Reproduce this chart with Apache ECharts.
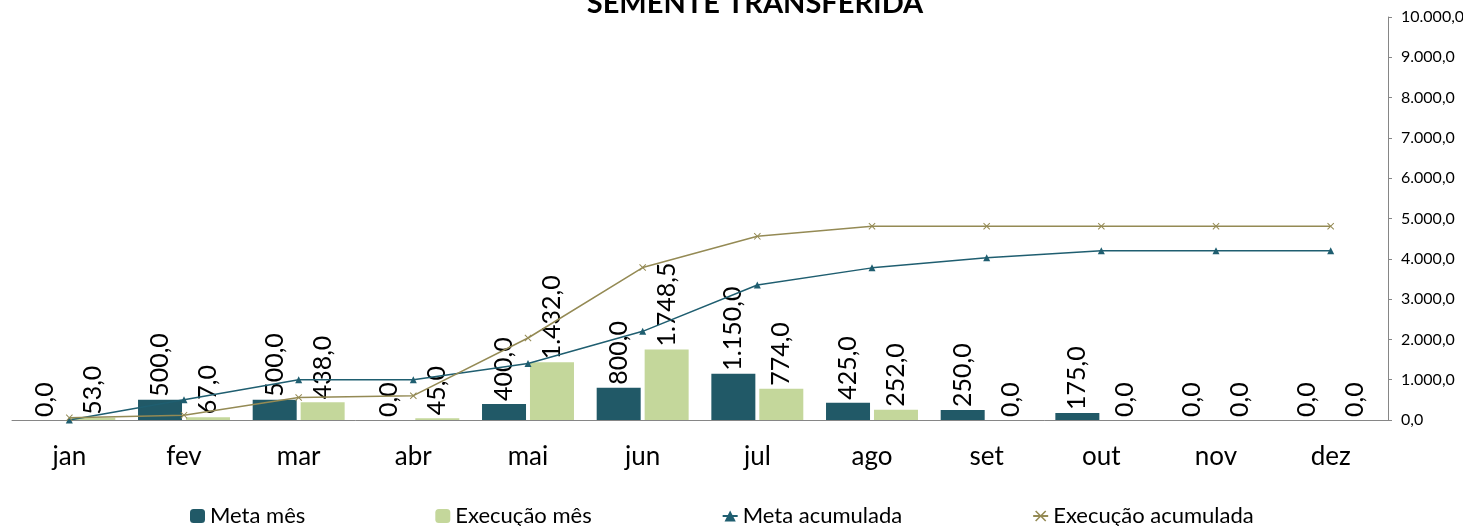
<!DOCTYPE html>
<html>
<head>
<meta charset="utf-8">
<script src="https://cdn.jsdelivr.net/npm/echarts@6/dist/echarts.min.js"></script>
<style>
  html, body { margin: 0; padding: 0; background: #fff; }
  #chart { width: 1463px; height: 526px; }
</style>
</head>
<body>
<div id="chart"></div>
<script>
var meses = ['jan', 'fev', 'mar', 'abr', 'mai', 'jun', 'jul', 'ago', 'set', 'out', 'nov', 'dez'];
var metaMes = [0, 500, 500, 0, 400, 800, 1150, 425, 250, 175, 0, 0];
var execMes = [53, 67, 438, 45, 1432, 1748.5, 774, 252, 0, 0, 0, 0];
var metaAcum = [0, 500, 1000, 1000, 1400, 2200, 3350, 3775, 4025, 4200, 4200, 4200];
var execAcum = [53, 120, 558, 603, 2035, 3783.5, 4557.5, 4809.5, 4809.5, 4809.5, 4809.5, 4809.5];

// formato brasileiro: 1.748,5
function fmt(v) {
  var s = Number(v).toFixed(1).split('.');
  var inteiro = s[0].replace(/\B(?=(\d{3})+(?!\d))/g, '.');
  return inteiro + ',' + s[1];
}

var fonte = 'Lato, "Open Sans", sans-serif';
var xis = 'path://M0,1L1,0L5,4L9,0L10,1L6,5L10,9L9,10L5,6L1,10L0,9L4,5Z';

var myChart = echarts.init(document.getElementById('chart'));

var labelBarra = {
  show: true,
  position: 'top',
  rotate: 90,
  align: 'left',
  verticalAlign: 'middle',
  distance: 3,
  fontSize: 25,
  fontFamily: fonte,
  color: '#000',
  formatter: function (p) { return fmt(p.value); }
};

var option = {
  animation: false,
  backgroundColor: '#fff',
  title: {
    text: 'SEMENTE TRANSFERIDA',
    left: 750,
    top: -16,
    textAlign: 'center',
    textStyle: { fontSize: 29, fontWeight: 'bold', fontFamily: fonte, color: '#000' }
  },
  legend: {
    bottom: -6,
    left: 185,
    itemGap: 130,
    itemWidth: 15,
    itemHeight: 14,
    textStyle: { fontSize: 22, fontFamily: fonte, color: '#000' },
    data: ['Meta mês', 'Execução mês', 'Meta acumulada', 'Execução acumulada']
  },
  grid: { left: 12, right: 75, top: 17, bottom: 106, outerBoundsMode: 'none', containLabel: false },
  xAxis: {
    type: 'category',
    data: meses,
    axisLine: { lineStyle: { color: '#868686' } },
    axisTick: { length: 8, lineStyle: { color: '#868686' } },
    axisLabel: { fontSize: 26, fontFamily: fonte, color: '#000', margin: 24 }
  },
  yAxis: {
    type: 'value',
    position: 'right',
    min: 0,
    max: 10000,
    interval: 1000,
    splitLine: { show: false },
    axisLine: { show: true, lineStyle: { color: '#868686' } },
    axisTick: { show: true, length: 4, lineStyle: { color: '#868686' } },
    axisLabel: { fontSize: 16, fontFamily: fonte, color: '#000', margin: 13, formatter: fmt }
  },
  series: [
    {
      name: 'Meta mês',
      type: 'bar',
      data: metaMes,
      barWidth: 44,
      barGap: '9%',
      itemStyle: { color: '#215967' },
      label: labelBarra
    },
    {
      name: 'Execução mês',
      type: 'bar',
      data: execMes,
      barWidth: 44,
      itemStyle: { color: '#C4D79B' },
      label: labelBarra
    },
    {
      name: 'Meta acumulada',
      type: 'line',
      data: metaAcum,
      symbol: 'triangle',
      symbolSize: 7,
      itemStyle: { color: '#1F5E70' },
      lineStyle: { color: '#1F5E70', width: 1.5 }
    },
    {
      name: 'Execução acumulada',
      type: 'line',
      data: execAcum,
      symbol: xis,
      symbolSize: 7,
      itemStyle: { color: '#948A54' },
      lineStyle: { color: '#948A54', width: 1.5 }
    }
  ]
};

myChart.setOption(option);
</script>
</body>
</html>
